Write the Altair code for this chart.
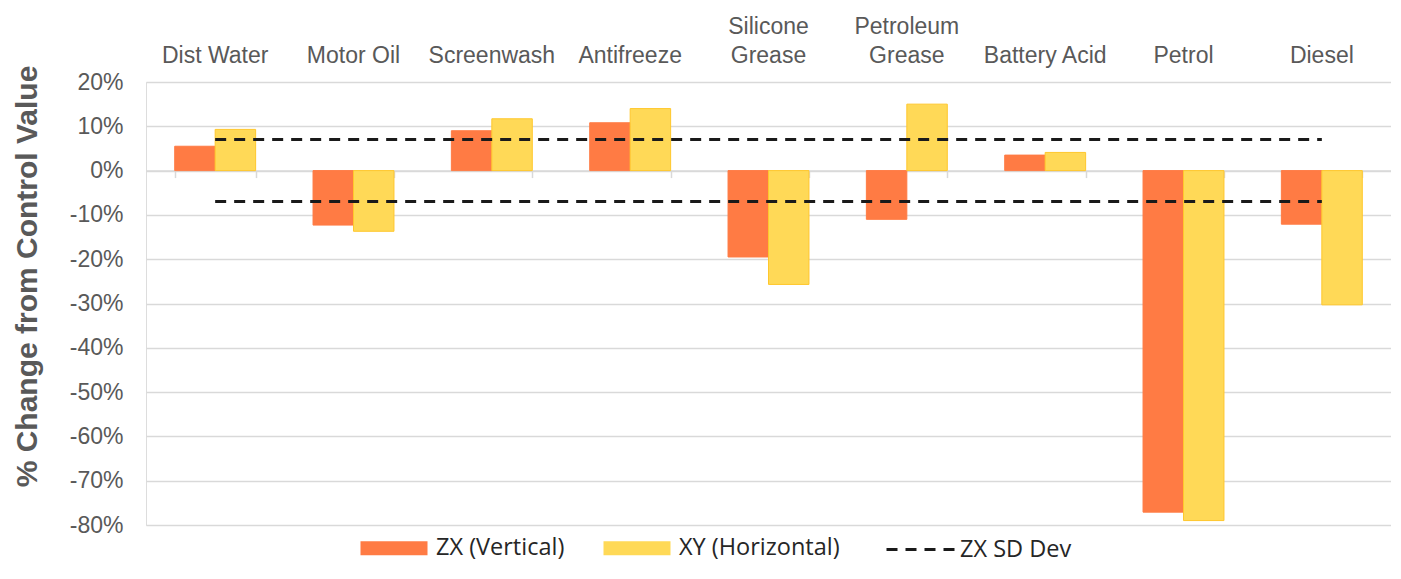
import altair as alt
import pandas as pd

categories = ["Dist Water", "Motor Oil", "Screenwash", "Antifreeze", "Silicone Grease",
              "Petroleum Grease", "Battery Acid", "Petrol", "Diesel"]
zx_vertical = [5.5, -12.3, 9.0, 10.8, -19.5, -11.0, 3.5, -77.1, -12.1]
xy_horizontal = [9.3, -13.7, 11.7, 14.0, -25.7, 15.0, 4.1, -79.0, -30.3]
sd_upper = 7.0
sd_lower = -7.0
series_names = ["ZX (Vertical)", "XY (Horizontal)"]
sd_name = "ZX SD Dev"
y_ticks = [-80, -70, -60, -50, -40, -30, -20, -10, 0, 10, 20]

bars_df = pd.DataFrame(
    [{"cat": c, "series": series_names[0], "v": v} for c, v in zip(categories, zx_vertical)]
    + [{"cat": c, "series": series_names[1], "v": v} for c, v in zip(categories, xy_horizontal)]
)
sd_df = pd.DataFrame(
    [{"cat": c, "band": "upper", "v": sd_upper, "s": sd_name} for c in categories]
    + [{"cat": c, "band": "lower", "v": sd_lower, "s": sd_name} for c in categories]
)

W, H = 1245, 443
GRID = "#d9d9d9"
TXT = "#595959"
ORANGE = "#FF7B44"
YELLOW = "#FFD957"
YELLOW_EDGE = "#FFC72C"

xscale = alt.Scale(domain=categories, paddingInner=0.415, paddingOuter=0.2075)
yscale = alt.Scale(domain=[-80, 20], nice=False, zero=False)

yaxis = alt.Axis(values=y_ticks, labelExpr="datum.value + '%'", grid=True, gridColor=GRID,
                 gridWidth=1.5, domain=False, ticks=False, labelFontSize=23, labelColor=TXT,
                 labelFont="Liberation Sans", labelPadding=23,
                 title="% Change from Control Value", titleFontSize=30, titleFont="Liberation Sans",
                 titleFontWeight="bold", titleColor=TXT, titleX=-104, titleY=194)

bars = alt.Chart(bars_df).mark_bar(strokeWidth=1).encode(
    x=alt.X("cat:N", scale=xscale, sort=categories,
            axis=alt.Axis(orient="top", title=None, ticks=False, domain=False, labelAngle=0,
                          labelFontSize=23, labelColor=TXT, labelFont="Liberation Sans",
                          labelPadding=44, labelLineHeight=29, labelLimit=300,
                          labelExpr="indexof(datum.label, 'Grease') > 0 ? split(datum.label, ' ') : ['', datum.label]")),
    xOffset=alt.XOffset("series:N", scale=alt.Scale(domain=series_names, paddingInner=0, paddingOuter=0)),
    y=alt.Y("v:Q", scale=yscale, axis=yaxis),
    fill=alt.Fill("series:N", scale=alt.Scale(domain=series_names, range=[ORANGE, YELLOW]),
                  legend=alt.Legend(title=None, orient="none", direction="horizontal",
                                    legendX=214, legendY=432, padding=0,
                                    symbolType="M-1,-0.21H1V0.21H-1Z", symbolSize=4489,
                                    symbolStrokeWidth=1, labelFontSize=23.5, labelFont="Open Sans",
                                    labelColor="#262626", labelOffset=8, labelLimit=300,
                                    columnPadding=38, symbolOpacity=1)),
    stroke=alt.Stroke("series:N", scale=alt.Scale(domain=series_names, range=[ORANGE, YELLOW_EDGE]),
                      legend=None),
)

lines = alt.Chart(sd_df).mark_line(color="#1a1a1a", strokeWidth=3).encode(
    x=alt.X("cat:N", scale=xscale, sort=categories,
            axis=alt.Axis(orient="bottom", offset=-354.4, labels=False, title=None, ticks=True,
                          tickBand="extent", tickSize=7, tickColor=GRID, tickWidth=1.5,
                          domainColor=GRID, domainWidth=1.5, grid=False)),
    y=alt.Y("v:Q", scale=yscale),
    detail="band:N",
    strokeDash=alt.StrokeDash("s:N", scale=alt.Scale(domain=[sd_name], range=[[11, 8]]),
                              legend=alt.Legend(title=None, orient="none", direction="horizontal",
                                                legendX=739, legendY=432, padding=0,
                                                symbolType="stroke", symbolSize=4624,
                                                symbolStrokeWidth=3, symbolStrokeColor="#1a1a1a",
                                                labelFontSize=23.5, labelFont="Open Sans",
                                                labelColor="#262626", labelOffset=4, labelLimit=300)),
)

chart = alt.layer(bars, lines).resolve_axis(x="independent").resolve_legend(
    fill="independent", strokeDash="independent"
).properties(
    width=W, height=H,
    padding={"left": 138, "top": 74, "right": 0, "bottom": 38},
    autosize=alt.AutoSizeParams(type="none"),
).configure_view(stroke=None).configure(background="white")

chart.save("out.html", embed_options={"renderer": "svg", "actions": False})
